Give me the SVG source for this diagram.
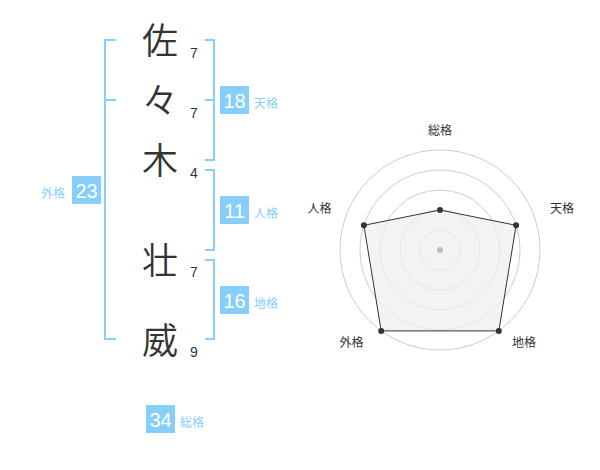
<svg xmlns="http://www.w3.org/2000/svg" width="600" height="470" viewBox="0 0 600 470">
<style>
.ch{font-family:"Noto Sans CJK JP","Noto Sans CJK SC",sans-serif;font-size:36px;font-weight:350;fill:#333;text-anchor:middle}
.num{font-family:"Liberation Sans",Arial,sans-serif;font-size:14px;fill:#333}
.br{fill:none;stroke:#87cefa;stroke-width:2}
.box{fill:#87cefa}
.bt{font-family:"Liberation Sans",Arial,sans-serif;font-size:20px;fill:#fff;text-anchor:middle}
.lb{font-family:"Noto Sans CJK JP","Noto Sans CJK SC",sans-serif;font-size:12px;fill:#87cefa}
.ring{fill:none;stroke:#ccc;stroke-width:1}
.rl{font-family:"Noto Sans CJK JP","Noto Sans CJK SC",sans-serif;font-size:12px;fill:#333;text-anchor:middle}
.pt{fill:#333}
</style>
<rect width="600" height="470" fill="#fff"/>
<g id="chars">
<text class="ch" x="160" y="54">佐</text>
<text class="ch" x="160" y="114">々</text>
<text class="ch" x="160" y="174">木</text>
<text class="ch" x="160" y="274">壮</text>
<text class="ch" x="160" y="354">威</text>
</g>
<g id="strokes">
<text class="num" x="190" y="58">7</text>
<text class="num" x="190" y="118">7</text>
<text class="num" x="190" y="178">4</text>
<text class="num" x="190" y="277">7</text>
<text class="num" x="190" y="357">9</text>
</g>
<g id="connectors">
<polyline class="br" points="116,40 105,40 105,339 116,339"/>
<line class="br" x1="105" y1="100" x2="116" y2="100"/>
<polyline class="br" points="205,40 214,40 214,160 205,160"/>
<line class="br" x1="205" y1="100" x2="214" y2="100"/>
<polyline class="br" points="205,170 214,170 214,250 205,250"/>
<polyline class="br" points="205,260 214,260 214,339 205,339"/>
</g>
<g id="tenkaku">
<rect class="box" x="220" y="86" width="29" height="28"/>
<text class="bt" x="234.5" y="108">18</text>
<text class="lb" x="254" y="108">天格</text>
</g>
<g id="jinkaku">
<rect class="box" x="220" y="196" width="29" height="28"/>
<text class="bt" x="234.5" y="218">11</text>
<text class="lb" x="254" y="218">人格</text>
</g>
<g id="chikaku">
<rect class="box" x="220" y="286" width="29" height="28"/>
<text class="bt" x="234.5" y="308">16</text>
<text class="lb" x="254" y="308">地格</text>
</g>
<g id="gaikaku">
<rect class="box" x="72" y="176" width="29" height="28"/>
<text class="bt" x="86.5" y="198">23</text>
<text class="lb" x="41" y="198">外格</text>
</g>
<g id="soukaku">
<rect class="box" x="146" y="405" width="29" height="28"/>
<text class="bt" x="160.5" y="427">34</text>
<text class="lb" x="180" y="427">総格</text>
</g>
<g id="radar">
<circle class="ring" cx="440" cy="250" r="20"/>
<circle class="ring" cx="440" cy="250" r="40"/>
<circle class="ring" cx="440" cy="250" r="60"/>
<circle class="ring" cx="440" cy="250" r="80"/>
<circle class="ring" cx="440" cy="250" r="100"/>
<polygon points="440,210 516.1,225.3 498.8,330.9 381.2,330.9 363.9,225.3" fill="#eee" fill-opacity="0.7" stroke="#333" stroke-width="1"/>
<circle cx="440" cy="250" r="3" fill="#bbb"/>
<circle class="pt" cx="440" cy="210" r="3"/>
<circle class="pt" cx="516.1" cy="225.3" r="3"/>
<circle class="pt" cx="498.8" cy="330.9" r="3"/>
<circle class="pt" cx="381.2" cy="330.9" r="3"/>
<circle class="pt" cx="363.9" cy="225.3" r="3"/>
<text class="rl" x="440" y="135">総格</text>
<text class="rl" x="562" y="213">天格</text>
<text class="rl" x="319.5" y="213">人格</text>
<text class="rl" x="351.5" y="347">外格</text>
<text class="rl" x="524" y="347">地格</text>
</g>
</svg>
